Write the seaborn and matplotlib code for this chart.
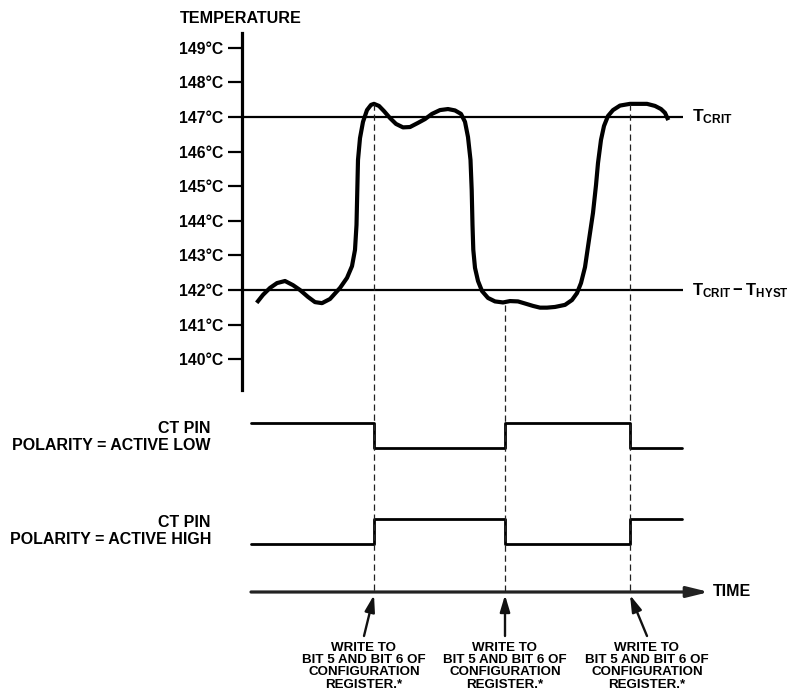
import numpy as np
import pandas as pd
import matplotlib
matplotlib.use("Agg")
import matplotlib.pyplot as plt
import seaborn as sns

# temperature trace (time in arbitrary units, temperature in deg C)
curve_time = [256.7, 263, 270, 277, 285, 293, 300, 308, 315, 322, 330, 340,
              347, 352, 355, 356.5, 357.3, 358, 360, 363, 367, 371, 374, 379,
              384, 390, 396, 403, 410, 418, 425, 432, 440, 448, 455, 461, 465,
              468, 470.5, 471.7, 472.5, 473.3, 475, 478, 482, 488, 495, 503,
              510, 518, 525, 533, 540, 547, 555, 565, 572, 577, 581, 585, 589,
              593, 596, 598, 601, 604, 608, 613, 620, 630, 640, 647, 655, 661,
              665, 668.3]
curve_temp = [141.63, 141.86, 142.06, 142.20, 142.26, 142.14, 142.00, 141.80,
              141.65, 141.62, 141.74, 142.06, 142.35, 142.69, 143.16, 143.88,
              144.89, 145.76, 146.39, 146.86, 147.20, 147.35, 147.38, 147.32,
              147.17, 146.97, 146.80, 146.70, 146.71, 146.83, 146.94, 147.09,
              147.20, 147.23, 147.19, 147.09, 146.86, 146.42, 145.76, 144.89,
              143.88, 143.16, 142.64, 142.26, 141.97, 141.77, 141.67, 141.64,
              141.68, 141.67, 141.61, 141.54, 141.49, 141.49, 141.51, 141.57,
              141.71, 141.91, 142.20, 142.66, 143.45, 144.23, 145.03, 145.67,
              146.34, 146.74, 147.03, 147.20, 147.33, 147.38, 147.38, 147.38,
              147.32, 147.23, 147.12, 146.91]

temp_ticks = [140, 141, 142, 143, 144, 145, 146, 147, 148, 149]
t_crit = 147
t_crit_hyst = 142
limit_end = 683

# CT pin waveforms (1 = high, 0 = low), steps at the write events
edge_times = [251, 374, 505, 630, 682]
active_low = [1, 0, 1, 0, 0]
active_high = [0, 1, 0, 1, 1]

write_times = [374, 505, 630]
write_temps = [147.38, 141.57, 147.38]
note_x = [364, 505, 647]
note_text = "WRITE TO\nBIT 5 AND BIT 6 OF\nCONFIGURATION\nREGISTER.*"

sns.set_theme(style="white")
plt.rcParams["font.family"] = ["Liberation Sans", "DejaVu Sans"]
plt.rcParams["font.weight"] = "bold"
plt.rcParams["text.color"] = "black"
plt.rcParams["mathtext.fontset"] = "custom"
plt.rcParams["mathtext.rm"] = "Liberation Sans:bold"
plt.rcParams["mathtext.bf"] = "Liberation Sans:bold"
plt.rcParams["mathtext.it"] = "Liberation Sans:bold"

W, H = 789, 694
fig = plt.figure(figsize=(W / 100, H / 100), dpi=100)
fig.patch.set_facecolor("white")

# temperature axes
ax_t = fig.add_axes([242 / W, 1 - 390 / H, 1 - 242 / W, (390 - 33) / H])
ax_t.patch.set_visible(False)
ax_t.set_xlim(242, W)
ax_t.set_ylim(147 - (390 - 117) / 34.6, 147 + (117 - 33) / 34.6)
for s in ["top", "right", "bottom"]:
    ax_t.spines[s].set_visible(False)
ax_t.spines["left"].set_linewidth(2.3)
ax_t.spines["left"].set_color("black")
ax_t.set_xticks([])
ax_t.set_yticks(temp_ticks)
ax_t.set_yticklabels([f"{t}\u00b0C" for t in temp_ticks])
ax_t.tick_params(axis="y", direction="out", length=10, width=1.6, pad=3.3,
                 colors="black", labelsize=11.3, left=True)
for lab in ax_t.get_yticklabels():
    lab.set_fontweight("bold")

for lvl in [t_crit, t_crit_hyst]:
    ax_t.plot([242, limit_end], [lvl, lvl], color="black", lw=1.6,
              solid_capstyle="butt")

df_curve = pd.DataFrame({"time": curve_time, "temp": curve_temp})
sns.lineplot(data=df_curve, x="time", y="temp", ax=ax_t, color="black",
             lw=3.0, estimator=None, sort=False, solid_capstyle="butt",
             solid_joinstyle="round")
ax_t.set_xlabel("")
ax_t.set_ylabel("")

# CT pin rows
rows = [(423, 448, active_low), (519, 544, active_high)]
for top, bot, states in rows:
    ax = fig.add_axes([0, 1 - bot / H, 1, (bot - top) / H])
    ax.patch.set_visible(False)
    ax.set_xlim(0, W)
    ax.set_ylim(0, 1)
    ax.axis("off")
    df_sig = pd.DataFrame({"time": edge_times, "level": states})
    sns.lineplot(data=df_sig, x="time", y="level", ax=ax, color="black",
                 lw=2.0, estimator=None, sort=False, drawstyle="steps-post",
                 clip_on=False)

# overlay in pixel units for dashed guides, time axis and notes
ax_o = fig.add_axes([0, 0, 1, 1])
ax_o.patch.set_visible(False)
ax_o.set_xlim(0, W)
ax_o.set_ylim(H, 0)
ax_o.axis("off")

time_y = 592
to_px = ax_o.transData.inverted()
for t, temp in zip(write_times, write_temps):
    y0 = to_px.transform(ax_t.transData.transform((t, temp)))[1]
    ax_o.plot([t, t], [y0, time_y + 2], color="#222222", lw=0.9,
              dashes=(5, 3))

ax_o.annotate("", xy=(709, time_y), xytext=(251, time_y),
              arrowprops=dict(arrowstyle="-|>,head_length=1.3,head_width=0.32",
                              mutation_scale=10, lw=2.3, color="#222222",
                              shrinkA=0, shrinkB=0))
ax_o.text(713, time_y, "TIME", ha="left", va="center", fontsize=11.5,
          fontweight="bold", color="black")

for t, nx in zip(write_times, note_x):
    ax_o.annotate("", xy=(t, time_y + 3), xytext=(nx, 636),
                  arrowprops=dict(arrowstyle="-|>,head_length=1.0,head_width=0.3",
                                  mutation_scale=10, lw=1.7, color="#111111",
                                  shrinkA=0, shrinkB=0))
    ax_o.text(nx, 642, note_text, ha="center", va="top", fontsize=9.6,
              fontweight="bold", linespacing=1.02, color="black")

ax_o.text(180, 18, "TEMPERATURE", ha="left", va="center", fontsize=11.6,
          fontweight="bold")
ax_o.text(211, 437, "CT PIN\nPOLARITY = ACTIVE LOW", ha="right",
          va="center", fontsize=11.5, fontweight="bold", linespacing=1.15)
ax_o.text(211, 531, "CT PIN\nPOLARITY = ACTIVE HIGH", ha="right",
          va="center", fontsize=11.5, fontweight="bold", linespacing=1.15)

ax_o.text(692, 121, r"$\mathrm{T}_{\mathrm{CRIT}}$", ha="left",
          va="baseline", fontsize=12.5)
ax_o.text(692, 295,
          r"$\mathrm{T}_{\mathrm{CRIT}}-\mathrm{T}_{\mathrm{HYST}}$",
          ha="left", va="baseline", fontsize=12)

fig.savefig("out.png", dpi=100, facecolor="white")
